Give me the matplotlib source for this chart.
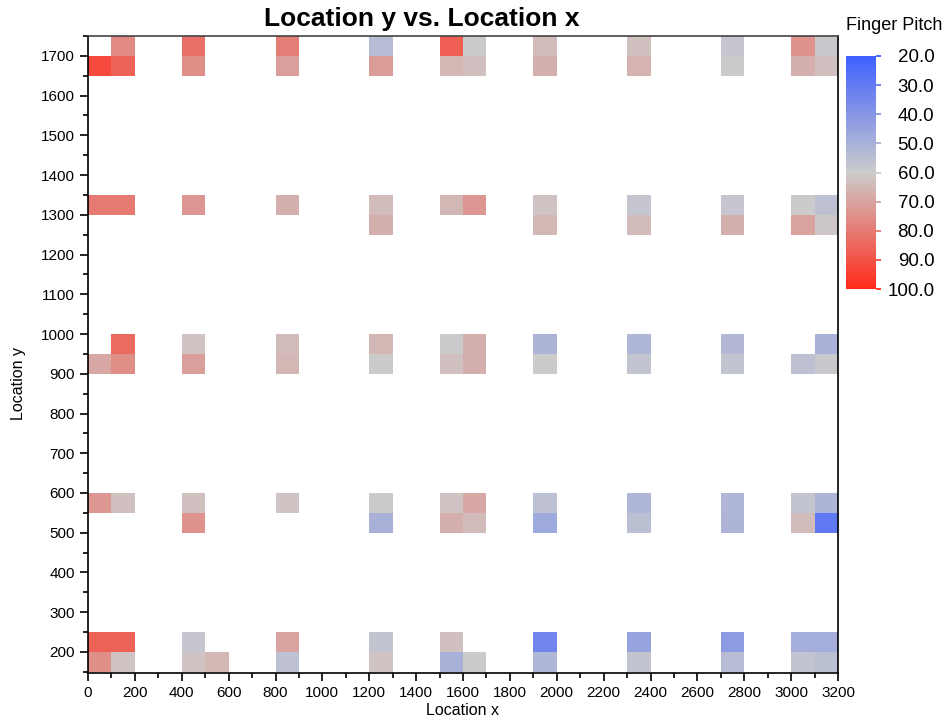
import matplotlib
matplotlib.use("Agg")
import matplotlib.pyplot as plt
from matplotlib.colors import LinearSegmentedColormap, Normalize
import numpy as np

plt.rcParams["font.family"] = ["Liberation Sans", "DejaVu Sans"]

# cell lower-left corners (x, y) and Finger Pitch value
cell_x = [100, 400, 800, 1200, 1500, 1600, 1900, 2300, 2700, 3000, 3100,
          0, 100, 400, 800, 1200, 1500, 1600, 1900, 2300, 2700, 3000, 3100,
          0, 100, 400, 800, 1200, 1500, 1600, 1900, 2300, 2700, 3000, 3100,
          1200, 1900, 2300, 2700, 3000, 3100,
          100, 400, 800, 1200, 1500, 1600, 1900, 2300, 2700, 3100,
          0, 100, 400, 800, 1200, 1500, 1600, 1900, 2300, 2700, 3000, 3100,
          0, 100, 400, 800, 1200, 1500, 1600, 1900, 2300, 2700, 3000, 3100,
          400, 1200, 1500, 1600, 1900, 2300, 2700, 3000, 3100,
          0, 100, 400, 800, 1200, 1500, 1900, 2300, 2700, 3000, 3100,
          0, 100, 400, 500, 800, 1200, 1500, 1600, 1900, 2300, 2700, 3000, 3100]
cell_y = ([1700] * 11 + [1650] * 12 + [1300] * 12 + [1250] * 6 + [950] * 10
          + [900] * 12 + [550] * 12 + [500] * 9 + [200] * 11 + [150] * 13)
cell_value = [76, 82, 79, 54, 87, 60, 64, 63, 58, 74, 59,
              92, 86, 75, 71, 72, 65, 63, 67, 66, 60, 67, 63,
              80, 80, 73, 67, 64, 65, 73, 62, 58, 58, 60, 56,
              67, 65, 64, 67, 70, 61,
              84, 62, 64, 65, 60, 67, 51, 52, 53, 50,
              69, 75, 71, 65, 60, 63, 67, 60, 57, 57, 56, 59,
              73, 63, 63, 62, 60, 62, 69, 56, 52, 52, 57, 51,
              74, 50, 67, 64, 47, 55, 51, 64, 29,
              86, 86, 58, 70, 57, 63, 34, 45, 42, 49, 49,
              75, 62, 62, 65, 56, 62, 50, 60, 52, 57, 54, 57, 55]

cbar_ticks = [20, 30, 40, 50, 60, 70, 80, 90, 100]

cmap = LinearSegmentedColormap.from_list(
    "bgr", [(0.0, "#4060ff"), (0.5, "#cccccc"), (1.0, "#ff2a1a")])
norm = Normalize(20, 100)

fig = plt.figure(figsize=(9.49, 7.22), dpi=100)
ax = fig.add_axes([88 / 949, 1 - 673 / 722, 750 / 949, 637 / 722])

ax.bar(cell_x, 50, width=100, bottom=cell_y, align="edge",
       color=cmap(norm(np.array(cell_value))), linewidth=0)

ax.set_xlim(0, 3200)
ax.set_ylim(147, 1750)
ax.set_xticks(np.arange(0, 3201, 200))
ax.set_xticks(np.arange(100, 3200, 200), minor=True)
ax.set_yticks(np.arange(200, 1701, 100))
ax.set_yticks(np.arange(150, 1751, 100), minor=True)
ax.tick_params(which="major", length=6, width=1.2, labelsize=11, direction="out")
ax.tick_params(which="minor", length=3.5, width=1.2, direction="out")
for s in ax.spines.values():
    s.set_linewidth(1.2)
ax.spines["top"].set_color("#444444")

fig.text(422 / 949, 1 - 19 / 722, "Location y vs. Location x", fontsize=19,
         fontweight="bold", ha="center", va="center")
ax.set_xlabel("Location x", fontsize=11.5, labelpad=2)
ax.set_ylabel("Location y", fontsize=11.5)
ax.yaxis.set_label_coords(-0.083, 0.455)

# colour legend
cax = fig.add_axes([846 / 949, 1 - 289 / 722, 30 / 949, 233 / 722])
sm = matplotlib.cm.ScalarMappable(norm=norm, cmap=cmap)
cb = fig.colorbar(sm, cax=cax, ticks=cbar_ticks)
cb.outline.set_visible(False)
cax.invert_yaxis()
cb.ax.set_yticklabels([f"{t:.1f}" for t in cbar_ticks])
cax.tick_params(length=0, labelsize=13.5, pad=42)
for lab in cax.get_yticklabels():
    lab.set_ha("right")
for t in cbar_ticks:
    cax.plot([1.0, 1.17], [t, t], color=cmap(norm(t)), lw=1.3,
             clip_on=False, solid_capstyle="butt")
fig.text(846 / 949, 1 - 25 / 722, "Finger Pitch", fontsize=13, va="center")

fig.savefig("out.png", dpi=100)
